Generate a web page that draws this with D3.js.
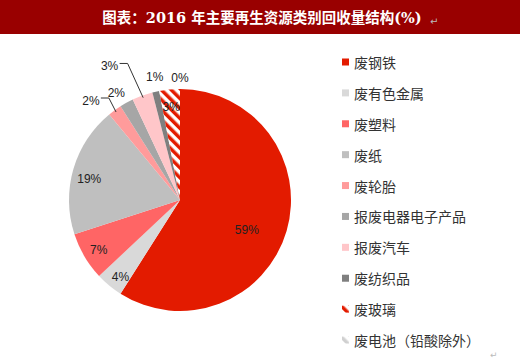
<!DOCTYPE html>
<html>
<head>
<meta charset="utf-8">
<script src="https://cdn.jsdelivr.net/npm/d3@7"></script>
<style>
  body { margin: 0; background: #fff; }
  svg { display: block; }
</style>
</head>
<body>
<script>
// dados
const categories = ["废钢铁", "废有色金属", "废塑料", "废纸", "废轮胎", "报废电器电子产品", "报废汽车", "废纺织品", "废玻璃", "废电池（铅酸除外）"];
const values = [59, 4, 7, 19, 2, 2, 3, 1, 3, 0];
const labels = ["59%", "4%", "7%", "19%", "2%", "2%", "3%", "1%", "3%", "0%"];
const colors = ["#E31B00", "#D9D9D9", "#FF6565", "#BFBFBF", "#FF9B9B", "#A6A6A6", "#FFC6C9", "#7F7F7F", "url(#hatchRed)", "url(#hatchGray)"];

const W = 520, H = 362;
const cx = 180, cy = 200, R = 111;

const svg = d3.select("body").append("svg").attr("width", W).attr("height", H);

// padrões hachurados
const defs = svg.append("defs");
function hatch(id, col, bg) {
  const p = defs.append("pattern").attr("id", id)
    .attr("patternUnits", "userSpaceOnUse").attr("width", 7).attr("height", 7)
    .attr("patternTransform", "rotate(-45)");
  p.append("rect").attr("width", 7).attr("height", 7).attr("fill", bg);
  p.append("rect").attr("width", 3.5).attr("height", 7).attr("fill", col);
}
hatch("hatchRed", "#E31B00", "#fff");
hatch("hatchGray", "#D0D0D0", "#fff");

// barra de título
svg.append("rect").attr("x", 0).attr("y", 0).attr("width", W).attr("height", 34).attr("fill", "#990000");
svg.append("text")
  .attr("x", 262).attr("y", 23)
  .attr("text-anchor", "middle")
  .attr("font-family", "'DejaVu Serif', 'Noto Sans CJK SC', serif")
  .attr("font-weight", "bold")
  .attr("font-size", 14.5)
  .attr("fill", "#fff")
  .text("图表：2016 年主要再生资源类别回收量结构(%)");
svg.append("text").attr("x", 430).attr("y", 25).attr("font-size", 10).attr("fill", "#bbb")
  .attr("font-family", "'DejaVu Sans', sans-serif").text("↵");

// pizza
const pie = d3.pie().sort(null).value(d => d)(values);
const arc = d3.arc().innerRadius(0).outerRadius(R);
const g = svg.append("g").attr("transform", `translate(${cx},${cy})`);

g.selectAll("path.slice")
  .data(pie)
  .join("path")
  .attr("class", "slice")
  .attr("d", arc)
  .attr("fill", (d, i) => colors[i]);

// posição dos rótulos: [raio relativo, deslocamento do ângulo em graus]
const labelLayout = {
  0: [0.66, 8], 1: [0.88, -2], 2: [0.86, -1], 3: [0.84, -3],
  4: [1.2, -6], 5: [1.12, -2], 6: [1.36, -8], 7: [1.13, 1], 8: [0.84, 0], 9: [1.1, 0]
};
const leaders = { 4: true, 6: true };

function polar(a, r) { return [Math.sin(a) * r, -Math.cos(a) * r]; }

pie.forEach((d, i) => {
  const mid = (d.startAngle + d.endAngle) / 2;
  const [rf, shift] = labelLayout[i];
  const a = mid + shift * Math.PI / 180;
  const [lx, ly] = polar(a, R * rf);
  if (leaders[i]) {
    const [px, py] = polar(mid, R * 0.98);
    g.append("polyline")
      .attr("points", [[lx + 10, ly - 3], [lx + 18, ly - 3], [px, py]].map(p => p.join(",")).join(" "))
      .attr("fill", "none").attr("stroke", "#333").attr("stroke-width", 1);
  }
  g.append("text")
    .attr("x", lx).attr("y", ly)
    .attr("text-anchor", "middle")
    .attr("dominant-baseline", "central")
    .attr("font-family", "'Liberation Sans', Arial, sans-serif")
    .attr("font-size", 12)
    .attr("fill", "#222")
    .text(labels[i]);
});

// legenda
const legendY = d3.scalePoint().domain(categories).range([62, 340]);
const leg = svg.append("g");
const rows = leg.selectAll("g").data(categories).join("g")
  .attr("transform", d => `translate(342,${legendY(d)})`);
rows.append("rect")
  .attr("x", 0).attr("y", -3.5).attr("width", 7).attr("height", 7)
  .attr("fill", (d, i) => colors[i]);
rows.append("text")
  .attr("x", 12).attr("y", 0)
  .attr("dominant-baseline", "central")
  .attr("font-family", "'Noto Sans CJK SC', sans-serif")
  .attr("font-size", 14)
  .attr("fill", "#333")
  .text(d => d);

svg.append("text").attr("x", 490).attr("y", 358).attr("font-size", 9).attr("fill", "#bbb")
  .attr("font-family", "'DejaVu Sans', sans-serif").text("↵");
</script>
</body>
</html>
